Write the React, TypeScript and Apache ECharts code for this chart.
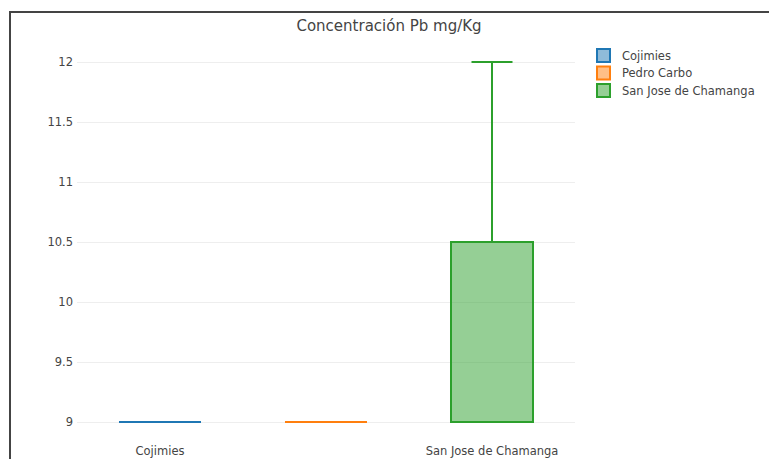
import React, { useEffect, useRef } from "react";
import * as echarts from "echarts";

const titleText = "Concentración Pb mg/Kg";
const categories = ["Cojimies", "Pedro Carbo", "San Jose de Chamanga"];
const minVals = [9, 9, 9];
const q1Vals = [9, 9, 9];
const medianVals = [9, 9, 9];
const q3Vals = [9, 9, 10.5];
const maxVals = [9, 9, 12];
const lineColors = ["#1f77b4", "#ff7f0e", "#2ca02c"];
const fillColors = ["rgba(31,119,180,0.5)", "rgba(255,127,14,0.5)", "rgba(44,160,44,0.5)"];

const FONT = "DejaVu Sans";

export default function App() {
  const ref = useRef<HTMLDivElement>(null);
  useEffect(() => {
    if (!ref.current) return;
    const chart = echarts.init(ref.current, null, { renderer: "svg" });
    const series = categories.map((name, i) => ({
      type: "custom",
      name,
      clip: false,
      itemStyle: { color: fillColors[i], borderColor: lineColors[i], borderWidth: 2 },
      data: [[i, minVals[i], q1Vals[i], medianVals[i], q3Vals[i], maxVals[i]]],
      renderItem: (params: any, api: any) => {
        const xi = api.value(0);
        const lo = api.value(1);
        const q1 = api.value(2);
        const med = api.value(3);
        const q3 = api.value(4);
        const hi = api.value(5);
        const cx = api.coord([xi, med])[0];
        const band = api.size([1, 0])[0];
        const half = band * 0.247;
        const y = (v: number) => api.coord([xi, v])[1];
        const stroke = lineColors[i];
        const lineStyle = { stroke, lineWidth: 2 };
        const children: any[] = [
          {
            type: "rect",
            shape: { x: cx - half, y: y(q3), width: 2 * half, height: y(q1) - y(q3) },
            style: { fill: fillColors[i], stroke, lineWidth: 2 },
          },
          {
            type: "line",
            shape: { x1: cx - half, y1: y(med), x2: cx + half, y2: y(med) },
            style: lineStyle,
          },
        ];
        if (hi > q3) {
          children.push({ type: "line", shape: { x1: cx, y1: y(q3), x2: cx, y2: y(hi) }, style: lineStyle });
          children.push({ type: "line", shape: { x1: cx - half / 2, y1: y(hi), x2: cx + half / 2, y2: y(hi) }, style: lineStyle });
        }
        if (lo < q1) {
          children.push({ type: "line", shape: { x1: cx, y1: y(q1), x2: cx, y2: y(lo) }, style: lineStyle });
          children.push({ type: "line", shape: { x1: cx - half / 2, y1: y(lo), x2: cx + half / 2, y2: y(lo) }, style: lineStyle });
        }
        return { type: "group", children };
      },
    }));
    chart.setOption({
      animation: false,
      backgroundColor: "#ffffff",
      textStyle: { fontFamily: FONT },
      title: {
        text: titleText,
        left: 384,
        textAlign: "center",
        top: 13,
        textStyle: { fontFamily: FONT, fontSize: 15, fontWeight: "normal", color: "#444" },
      },
      legend: {
        orient: "vertical",
        left: 591,
        top: 43,
        itemWidth: 13,
        itemHeight: 13,
        itemGap: 2.5,
        icon: "rect",
        textStyle: { fontFamily: FONT, fontSize: 11.5, color: "#444", padding: [0, 0, 0, 7] },
        data: categories.map((name, i) => ({
          name,
          itemStyle: { color: fillColors[i], borderColor: lineColors[i], borderWidth: 2 },
        })),
      },
      grid: { left: 77, right: 194, top: 62, bottom: 37 },
      xAxis: {
        type: "category",
        data: categories,
        axisLine: { show: false },
        axisTick: { show: false },
        splitLine: { show: false },
        axisLabel: { fontFamily: FONT, fontSize: 11.5, color: "#444", margin: 23 },
      },
      yAxis: {
        type: "value",
        min: 9,
        max: 12,
        interval: 0.5,
        axisLine: { show: false },
        axisTick: { show: false },
        splitLine: { show: true, lineStyle: { color: "#eeeeee", width: 1 } },
        axisLabel: { fontFamily: FONT, fontSize: 11.5, color: "#444", margin: 4 },
      },
      graphic: [
        { type: "line", shape: { x1: 10, y1: 12, x2: 769, y2: 12 }, style: { stroke: "#444", lineWidth: 2 } },
        { type: "line", shape: { x1: 10, y1: 11, x2: 10, y2: 459 }, style: { stroke: "#444", lineWidth: 2 } },
      ],
      series,
    });
    return () => chart.dispose();
  }, []);
  return (
    <div
      ref={ref}
      style={{ position: "fixed", left: 0, top: 0, width: 769, height: 459 }}
    />
  );
}
